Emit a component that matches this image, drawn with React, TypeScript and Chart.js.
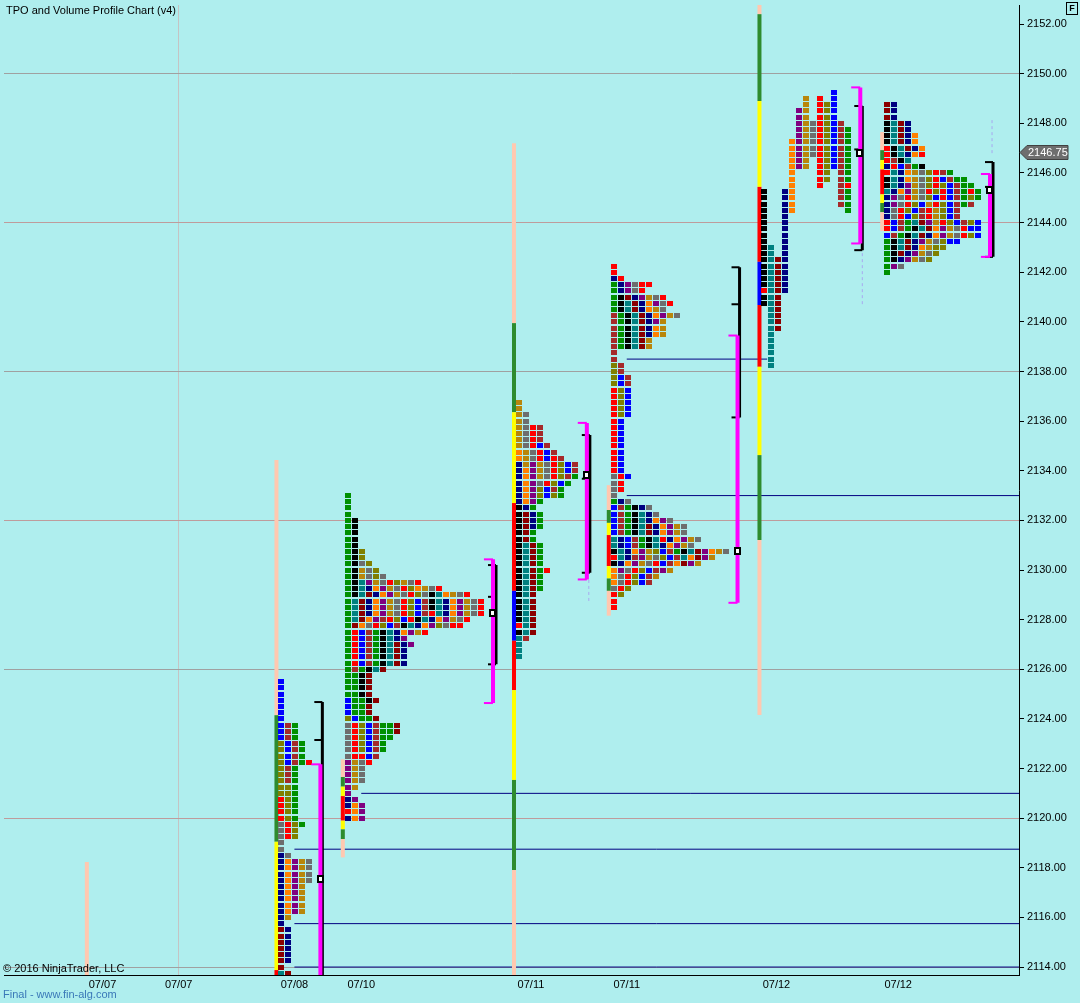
import React, { useEffect, useRef } from 'react';
import { Chart, registerables } from 'chart.js';

Chart.register(...registerables);

const FONT = '"Liberation Sans", Arial, sans-serif';

// ---------- axes ----------
const Y_MIN = 2113.68;
const Y_MAX = 2152.77;
const X_MAX = 145.29;
const Y_TICKS = [2114, 2116, 2118, 2120, 2122, 2124, 2126, 2128, 2130, 2132, 2134, 2136, 2138, 2140, 2142, 2144, 2146, 2148, 2150, 2152];
const X_TICK_POS = [14.1, 25.0, 41.57, 51.14, 75.43, 89.14, 110.57, 128.0];
const X_TICK_LABELS = ['07/07', '07/07', '07/08', '07/10', '07/11', '07/11', '07/12', '07/12'];
const LAST_PRICE = 2146.75;
const TICK_SIZE = 0.25;

// ---------- TPO letter colours ----------
const TPO_COLORS: Record<string, string> = {
  G: '#009000', K: '#000000', O: '#808000', Y: '#6E6E6E', D: '#B8860B', T: '#008080',
  P: '#800080', N: '#000080', R: '#FF0000', M: '#8B0000', B: '#0000FF', W: '#A52A2A', A: '#FF8000',
};

// ---------- TPO profiles (rows from top price downward, 0.25 per row) ----------
const PROFILE_X = [39.71, 49.29, 73.71, 87.29, 108.86, 126.43];
const PROFILE_TOP = [2125.5, 2133.0, 2136.75, 2142.25, 2149.25, 2148.75];

const ROWS_0708 = [
  'B', 'B', 'B', 'B', 'B', 'B', 'B',
  'BWG', 'BWG', 'BWG',
  'OBWG', 'OBWG', 'OBWG', 'OBWGR',
  'OWG', 'OWG', 'OWG', 'OOG', 'OOG',
  'ROG', 'ROG', 'ROG', 'ROG', 'YROG', 'YRO', 'YRO',
  'Y', 'Y', 'NY',
  'NAPDY', 'NAPDY', 'NAPDY', 'NAPDY',
  'NAPD', 'NAPD', 'NAPD', 'NAPD', 'NAPD',
  'ND', 'N',
  'MN', 'MN', 'MN', 'MN', 'MN', 'MN', 'M', 'TM',
];

const ROWS_0710 = [
  'G', 'G', 'G', 'G',
  'GK', 'GK', 'GK', 'GK', 'GK',
  'GKO', 'GKO', 'GKYO', 'GKDYO', 'GKDYOY',
  'GKTPDYRODYR',
  'GKTNAPDYROADYR',
  'GKTMNAPDYROYKTADYR',
  'GTMNAPDYROBWKTNAPDYR',
  'GTMNAPDYROBWKTNAPDYR',
  'GTMNAPDYROBWRTNAPDYR',
  'GTMAPWROBRKTNAPDYR',
  'GMAYROBWKTNAPOYRR',
  'GRBWGKTNAPDR',
  'GRBWGKTNP',
  'GRBWGKTMNP',
  'GRBWGKTMN', 'GRBWGKTMN', 'GRBWGKTMN',
  'GWGKTM',
  'GGKM', 'GGKM', 'GGKM', 'GGKM',
  'BGGKM', 'BGGM', 'BGGM', 'OBGGM',
  'YROBWGGM', 'YROBWGGM', 'YROBWGG', 'YROBWG', 'YROBWG', 'YRRBW',
  'PDYR', 'PDY', 'PDY', 'PDY', 'PD', 'P',
  'NP', 'NAP', 'RAP', 'NAP',
];

const ROWS_0711A = [
  'D', 'D', 'DY', 'DY',
  'DYRW', 'DYRW', 'DYRW', 'DYRBW',
  'ADYRBW', 'ADYRBRW',
  'NDPDYROBW', 'NAPDYROBW', 'NAPDYROWG', 'NAPYROBG',
  'NAPOBWG', 'NAPOBOG', 'NAPG',
  'KNG', 'KMNG', 'KMNG', 'KMNG', 'KMG', 'KMG',
  'KTMG', 'KTMG', 'KTMG', 'KTMG', 'KTMGR', 'KTMG', 'KTMG', 'KTMG',
  'KTM', 'KTM', 'KTM', 'KTM', 'KTM', 'RTM', 'KTM',
  'TW', 'T', 'T', 'T',
];

const ROWS_0711B = [
  'R', 'R', 'NR',
  'GNPYRR', 'GNPYR', 'GKMNPDYR', 'GKTMNAPYR', 'GKTMNADY',
  'WGKTMNAPDY', 'WGKTMNPD', 'WGKTMNAD', 'WGKTMNAD', 'WGKTMD', 'WGKTMD',
  'W', 'W', 'OW', 'OW', 'OBW', 'OBW',
  'ROB', 'ROB', 'ROB', 'ROB', 'ROB',
  'RB', 'RB', 'RB', 'RB', 'RB', 'RB', 'RB', 'RB', 'RB',
  'YRB', 'YR', 'YR', 'Y',
  'GNY', 'BWGKNY', 'BWGKTNY', 'BWGKTNAPY', 'BWGKTMNAPDY', 'BWGKTMNAPDY',
  'TNBWGKTRNAPDY', 'TNBWGKTNAPDY',
  'KTNAPDOBWGKTMPADY',
  'RTNWPDYOBWTAMPD',
  'KNAPDYRBWAMPD',
  'APYROBWPD', 'AYROBWD', 'AYROBW',
  'YRO', 'RO', 'R', 'R',
];

const ROWS_0712A = [
  '..........B',
  '......D.R.B',
  '......D.ROB',
  '.....PD.ROB',
  '.....PD.ROB',
  '.....PDYROBW',
  '.....PDYROBWG',
  '.....PDYROBWG',
  '....APDYROBWG',
  '....APDYROBWG',
  '....APDYROBWG',
  '....APD.ROBWG',
  '....APD.ROBWG',
  '....A...RO.WG',
  '....A...RO.WG',
  '....A...R..WR',
  'K..NA......WG',
  'K..NA......WG',
  'K..NA......WG',
  'K..NA.......G',
  'K..N', 'K..N', 'K..N', 'K..N', 'K..N',
  'KT.N', 'KT.N',
  'KTMN', 'KTMN', 'KTMN', 'KTMN', 'KTMN',
  'RTMN',
  'KTM', 'KTM',
  '.TM', '.TM', '.TM', '.TM',
  '.T', '.T', '.T', '.T', '.T', '.T',
];

const ROWS_0712B = [
  'MN', 'MN', 'MN',
  'KTMN', 'KTMN', 'KTMNA', 'KTMNA',
  'RKTMNA', 'RKTNAR', 'RWKT',
  'NRBWGK',
  'RTNADYORWG',
  'KTNADYORBWGG',
  'KTNPDYOROBWGG',
  'TNAPDYRORBWGRG',
  'NPYRDYOBRBWGOG',
  'NPYROBDROBWGW',
  'NYROBWRDOBW',
  'NYRBOWRDOBW',
  'RBWGTMPDROBWOB',
  'RBWGKTMAPDYRBB',
  'BWGKTMNAPDYROB',
  'GKTMNPDYOBB',
  'GKTMNADOO',
  'GKMNPDYO',
  'GKNPDYO',
  'GPY',
  'G',
];

const PROFILE_ROWS = [ROWS_0708, ROWS_0710, ROWS_0711A, ROWS_0711B, ROWS_0712A, ROWS_0712B];

// ---------- session colour bars: [low, high, colourKey] ----------
const BAR_COLORS: Record<string, string> = { S: '#FFC8B0', g: '#2E8B2E', y: '#FFFF00', r: '#FF0000', b: '#0000FF' };
const BAR_X = [11.86, 39.0, 48.5, 73.0, 86.57, 108.14, 125.71];
const BAR_0707 = [[2113.0, 2118.23, 'S']];
const BAR_0708 = [[2124.15, 2134.43, 'S'], [2119.05, 2124.15, 'g'], [2113.88, 2119.05, 'y'], [2113.0, 2113.88, 'r']];
const BAR_0710 = [[2121.66, 2122.37, 'S'], [2121.27, 2121.66, 'g'], [2120.89, 2121.27, 'y'], [2119.9, 2120.89, 'r'], [2119.55, 2119.9, 'y'], [2119.16, 2119.55, 'g'], [2118.42, 2119.16, 'S']];
const BAR_0711A = [[2139.95, 2147.2, 'S'], [2136.36, 2139.95, 'g'], [2132.7, 2136.36, 'y'], [2129.16, 2132.7, 'r'], [2127.15, 2129.16, 'b'], [2125.16, 2127.15, 'r'], [2121.54, 2125.16, 'y'], [2117.91, 2121.54, 'g'], [2113.0, 2117.91, 'S']];
const BAR_0711B = [[2132.42, 2133.42, 'S'], [2131.9, 2132.42, 'g'], [2131.41, 2131.9, 'y'], [2130.16, 2131.41, 'r'], [2129.66, 2130.16, 'y'], [2129.16, 2129.66, 'g'], [2128.16, 2129.16, 'S']];
const BAR_0712A = [[2152.4, 2152.77, 'S'], [2148.9, 2152.4, 'g'], [2145.44, 2148.9, 'y'], [2142.42, 2145.44, 'r'], [2140.68, 2142.42, 'b'], [2138.19, 2140.68, 'r'], [2134.63, 2138.19, 'y'], [2131.21, 2134.63, 'g'], [2124.16, 2131.21, 'S']];
const BAR_0712B = [[2146.92, 2147.65, 'S'], [2146.52, 2146.92, 'g'], [2146.14, 2146.52, 'y'], [2145.14, 2146.14, 'r'], [2144.79, 2145.14, 'y'], [2144.42, 2144.79, 'g'], [2143.66, 2144.42, 'S']];
const SESSION_BARS = [BAR_0707, BAR_0708, BAR_0710, BAR_0711A, BAR_0711B, BAR_0712A, BAR_0712B];

// ---------- brackets per profile ----------
const VA_X = [45.29, 70.0, 83.43, 105.0, 122.57, 141.14];
const VA_HIGH = [2122.17, 2130.43, 2135.93, 2139.45, 2149.45, 2145.96];
const VA_LOW = [2113.0, 2124.64, 2129.62, 2128.68, 2143.16, 2142.62];
const IB_X = [45.57, 70.43, 83.86, 105.29, 122.86, 141.57];
const IB_HIGH = [2124.68, 2130.2, 2135.44, 2142.2, 2148.7, 2146.44];
const IB_MID = [2123.15, 2128.92, 2133.68, 2140.71, 2146.95, 2145.44];
const IB_LOW = [2113.0, 2126.2, 2129.89, 2136.15, 2142.89, 2142.62];
const MARK_X = [45.36, 69.93, 83.36, 105.0, 122.5, 141.07];
const MARK_PRICE = [2117.53, 2128.27, 2133.81, 2130.76, 2146.8, 2145.31];

// ---------- naked POC lines ----------
const NPOC_PRICE = [2138.5, 2133.0, 2121.0, 2118.75, 2115.75, 2114.0];
const NPOC_START = [89.14, 89.14, 51.14, 41.57, 41.57, 41.57];
const NPOC_END = [109.24, X_MAX, X_MAX, X_MAX, X_MAX, X_MAX];

// ---------- thin dashed extensions ----------
const DASH_X = [83.71, 122.86, 141.43];
const DASH_HIGH = [2129.6, 2142.77, 2148.13];
const DASH_LOW = [2128.7, 2140.68, 2146.72];

function boxImage(color: string, w: number, h: number) {
  const c = document.createElement('canvas');
  c.width = w; c.height = h;
  const g = c.getContext('2d')!;
  g.fillStyle = color;
  g.fillRect(0, 0, w, h);
  return c;
}

function markerImage() {
  const c = document.createElement('canvas');
  c.width = 7; c.height = 8;
  const g = c.getContext('2d')!;
  g.fillStyle = '#000';
  g.fillRect(0, 0, 7, 8);
  g.fillStyle = '#FFFFFF';
  g.fillRect(2, 2, 3, 4);
  return c;
}

function line(points: any[], color: string, width: number, dash: number[] = []) {
  return {
    data: points, showLine: true, borderColor: color, backgroundColor: color,
    borderWidth: width, borderDash: dash, borderCapStyle: 'butt', pointRadius: 0,
    pointHoverRadius: 0, fill: false, tension: 0,
  };
}

function gridColor(v: number) {
  const d = Math.round(v - 2114);
  if (d % 6 !== 0) return 'rgba(0,0,0,0)';
  return (d / 6) % 2 === 0 ? '#A0A0A0' : '#BE9C9C';
}

function buildDatasets() {
  const out: any[] = [];
  // naked POC lines
  NPOC_PRICE.forEach((p, i) => out.push(line([{ x: NPOC_START[i], y: p }, { x: NPOC_END[i], y: p }], '#000080', 1)));
  // dashed lines
  DASH_X.forEach((x, i) => out.push(line([{ x, y: DASH_HIGH[i] }, { x, y: DASH_LOW[i] }], '#A8A8F0', 1, [3, 3])));
  // session bars
  SESSION_BARS.forEach((segs, i) => segs.forEach((s: any) => {
    out.push(line([{ x: BAR_X[i], y: s[0] }, { x: BAR_X[i], y: s[1] }], BAR_COLORS[s[2]], 4));
  }));
  // TPO squares
  const byColor: Record<string, any[]> = {};
  PROFILE_ROWS.forEach((rows, p) => rows.forEach((row, r) => {
    for (let i = 0; i < row.length; i++) {
      const c = row[i];
      if (c === '.') continue;
      (byColor[c] = byColor[c] || []).push({ x: PROFILE_X[p] + i, y: PROFILE_TOP[p] - TICK_SIZE * r });
    }
  }));
  Object.keys(byColor).forEach((c) => out.push({
    data: byColor[c], showLine: false, pointStyle: boxImage(TPO_COLORS[c], 6, 5),
    pointRadius: 3, pointHoverRadius: 3,
  }));
  // brackets
  for (let p = 0; p < IB_X.length; p++) {
    out.push(line([{ x: IB_X[p], y: IB_HIGH[p] }, { x: IB_X[p], y: IB_LOW[p] }], '#000000', 3));
    [IB_HIGH[p], IB_MID[p], IB_LOW[p]].forEach((v) =>
      out.push(line([{ x: IB_X[p] - 1.15, y: v }, { x: IB_X[p], y: v }], '#000000', 2)));
  }
  for (let p = 0; p < VA_X.length; p++) {
    out.push(line([{ x: VA_X[p], y: VA_HIGH[p] }, { x: VA_X[p], y: VA_LOW[p] }], '#FF00FF', 4));
    [VA_HIGH[p], VA_LOW[p]].forEach((v) =>
      out.push(line([{ x: VA_X[p] - 1.3, y: v }, { x: VA_X[p], y: v }], '#FF00FF', 2)));
  }
  // POC markers
  out.push({
    data: MARK_X.map((x, i) => ({ x, y: MARK_PRICE[i] })), showLine: false,
    pointStyle: markerImage(), pointRadius: 3, pointHoverRadius: 3,
  });
  const n = out.length;
  return out.map((d, i) => ({ ...d, order: n - i }));
}

const crispPlugin = {
  id: 'crisp',
  beforeDatasetsDraw(chart: any) { chart.ctx.imageSmoothingEnabled = false; },
};

const tagPlugin = {
  id: 'lastTag',
  afterDraw(chart: any) {
    const ctx = chart.ctx;
    const y = Math.round(chart.scales.y.getPixelForValue(LAST_PRICE)) - 1.5;
    const x0 = chart.chartArea.right + 1;
    ctx.save();
    ctx.beginPath();
    ctx.moveTo(x0, y);
    ctx.lineTo(x0 + 7, y - 7);
    ctx.lineTo(x0 + 48, y - 7);
    ctx.lineTo(x0 + 48, y + 7);
    ctx.lineTo(x0 + 7, y + 7);
    ctx.closePath();
    ctx.fillStyle = '#6E6E6E';
    ctx.fill();
    ctx.strokeStyle = '#404040';
    ctx.lineWidth = 1;
    ctx.stroke();
    ctx.fillStyle = '#FFFFFF';
    ctx.font = '11px ' + FONT;
    ctx.textBaseline = 'middle';
    ctx.textAlign = 'left';
    ctx.fillText(LAST_PRICE.toFixed(2), x0 + 8, y + 0.5);
    ctx.restore();
  },
};

export default function App() {
  const ref = useRef<HTMLCanvasElement>(null);
  useEffect(() => {
    document.body.style.margin = '0';
    const canvas = ref.current!;
    Chart.defaults.font.family = FONT;
    const chart = new Chart(canvas, {
      type: 'scatter',
      data: { datasets: buildDatasets() as any },
      options: {
        responsive: false,
        animation: false,
        events: [],
        devicePixelRatio: 1,
        layout: { padding: { left: 2, top: 5, right: 0, bottom: 0 } },
        plugins: { legend: { display: false }, tooltip: { enabled: false }, title: { display: false } },
        scales: {
          x: {
            type: 'linear', position: 'bottom', min: 0, max: X_MAX,
            afterBuildTicks: (s: any) => { s.ticks = X_TICK_POS.map((v) => ({ value: v })); },
            afterFit: (s: any) => { s.height = 28; s.paddingLeft = 0; s.paddingRight = 0; },
            ticks: {
              autoSkip: false, maxRotation: 0, minRotation: 0, padding: 3, color: '#000',
              font: { size: 11, family: FONT },
              callback: (_v: any, i: number) => X_TICK_LABELS[i],
            },
            grid: {
              drawTicks: false, lineWidth: 1,
              color: (ctx: any) => (ctx.index === 1 ? '#C4C4C4' : 'rgba(0,0,0,0)'),
            },
            border: { display: true, color: '#000', width: 1 },
          },
          y: {
            type: 'linear', position: 'right', min: Y_MIN, max: Y_MAX,
            afterBuildTicks: (s: any) => { s.ticks = Y_TICKS.map((v) => ({ value: v })); },
            afterFit: (s: any) => { s.width = 61; s.paddingTop = 0; s.paddingBottom = 0; },
            ticks: {
              padding: 3, color: '#000', font: { size: 11, family: FONT },
              callback: (v: any) => Number(v).toFixed(2),
            },
            grid: {
              drawTicks: true, tickLength: 5, tickColor: '#000', lineWidth: 1,
              color: (ctx: any) => gridColor(ctx.tick ? ctx.tick.value : 0),
            },
            border: { display: true, color: '#000', width: 1 },
          },
        },
      } as any,
      plugins: [crispPlugin, tagPlugin],
    });
    return () => chart.destroy();
  }, []);

  return (
    <div style={{ position: 'relative', width: 1080, height: 1003, background: '#AFEEEE', overflow: 'hidden', fontFamily: FONT }}>
      <canvas ref={ref} width={1080} height={1003} style={{ position: 'absolute', left: 0, top: 0, width: 1080, height: 1003 }} />
      <div style={{ position: 'absolute', left: 6, top: 4, fontSize: 11, color: '#000', whiteSpace: 'nowrap' }}>TPO and Volume Profile Chart (v4)</div>
      <div style={{ position: 'absolute', left: 3, top: 962, fontSize: 11, color: '#000', whiteSpace: 'nowrap' }}>© 2016 NinjaTrader, LLC</div>
      <div style={{ position: 'absolute', left: 3, top: 988, fontSize: 11, color: '#3A78B8', whiteSpace: 'nowrap' }}>Final - www.fin-alg.com</div>
      <div style={{ position: 'absolute', left: 1066, top: 2, width: 10, height: 11, border: '1px solid #000', fontSize: 9, fontWeight: 'bold', lineHeight: '11px', textAlign: 'center', color: '#000' }}>F</div>
    </div>
  );
}
